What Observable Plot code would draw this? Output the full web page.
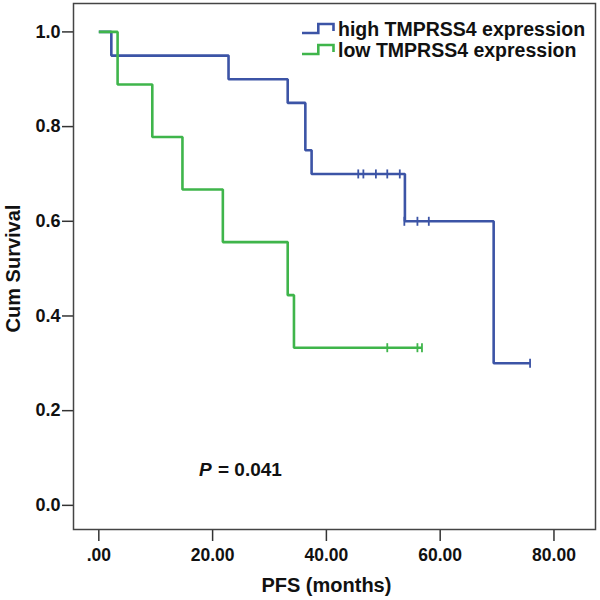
<!DOCTYPE html>
<html>
<head>
<meta charset="utf-8">
<script src="https://cdn.jsdelivr.net/npm/d3@7"></script>
<script src="https://cdn.jsdelivr.net/npm/@observablehq/plot@0.6"></script>
<style>
  html, body { margin: 0; padding: 0; background: #fff; }
  #wrap { position: relative; width: 600px; height: 600px; font-family: "Liberation Sans", Arial, sans-serif; }
  .leg { position: absolute; left: 338px; font-size: 19.5px; font-weight: bold; color: #111; line-height: 20px; white-space: nowrap; }
  #glyphs { position: absolute; left: 0; top: 0; pointer-events: none; }
</style>
</head>
<body>
<div id="wrap"></div>
<script>
// ---- data ----
const groups = ["high TMPRSS4 expression", "low TMPRSS4 expression"];
const colors = ["#3c54a6", "#3fb54b"];

const highTime = [0, 2.2, 22.8, 33.2, 36.3, 37.4, 53.8, 69.4, 75.8];
const highSurv = [1.0, 0.95, 0.90, 0.85, 0.75, 0.70, 0.60, 0.30, 0.30];
const highCensorTime = [45.6, 46.5, 48.7, 50.7, 52.9, 53.7, 56.0, 58.0, 75.8];
const highCensorSurv = [0.70, 0.70, 0.70, 0.70, 0.70, 0.60, 0.60, 0.60, 0.30];

const lowTime = [0, 3.3, 9.4, 14.7, 21.8, 33.2, 34.3, 56.8];
const lowSurv = [1.0, 0.889, 0.778, 0.667, 0.556, 0.444, 0.333, 0.333];
const lowCensorTime = [50.7, 56.0, 56.8];
const lowCensorSurv = [0.333, 0.333, 0.333];

const xTicks = [0, 20, 40, 60, 80];
const xTickLabels = [".00", "20.00", "40.00", "60.00", "80.00"];
const yTicks = [0, 0.2, 0.4, 0.6, 0.8, 1.0];
const yTickLabels = ["0.0", "0.2", "0.4", "0.6", "0.8", "1.0"];
const xTitle = "PFS (months)";
const yTitle = "Cum Survival";
const pLetter = "P";
const pRest = "= 0.041";
const pAnno = [{x: 17.6, y: 0.074}];

// ---- build tables ----
const highSteps = highTime.map((t, i) => ({t, s: highSurv[i], g: groups[0]}));
const lowSteps = lowTime.map((t, i) => ({t, s: lowSurv[i], g: groups[1]}));
const highCens = highCensorTime.map((t, i) => ({t, s: highCensorSurv[i], g: groups[0]}));
const lowCens = lowCensorTime.map((t, i) => ({t, s: lowCensorSurv[i], g: groups[1]}));

const tickSymbol = {
  draw(context, size) {
    const r = Math.sqrt(size / Math.PI);
    context.moveTo(0, -r);
    context.lineTo(0, r);
  }
};

const font = "Liberation Sans, Arial, sans-serif";
const ink = "#111";

const chart = Plot.plot({
  width: 600,
  height: 600,
  marginLeft: 73,
  marginRight: 5,
  marginTop: 3,
  marginBottom: 71,
  style: {fontFamily: font, background: "white", color: ink},
  x: {domain: [-4.45, 87.3]},
  y: {domain: [-0.051, 1.060]},
  color: {domain: groups, range: colors},
  marks: [
    Plot.axisX({
      ticks: xTicks,
      tickFormat: d => xTickLabels[xTicks.indexOf(d)],
      tickSize: 12, tickPadding: 7,
      fontSize: 17.5, fontWeight: "bold",
      stroke: "#333", strokeWidth: 1.5, fill: ink,
      label: null
    }),
    Plot.axisY({
      ticks: yTicks,
      tickFormat: d => yTickLabels[yTicks.findIndex(v => Math.abs(v - d) < 1e-9)],
      tickSize: 11, tickPadding: 2,
      fontSize: 18, fontWeight: "bold",
      stroke: "#333", strokeWidth: 1.5, fill: ink,
      label: null
    }),
    Plot.frame({stroke: "#444", strokeWidth: 1.5}),
    Plot.line(highSteps, {x: "t", y: "s", stroke: "g", curve: "step-after", strokeWidth: 2.6, strokeLinejoin: "miter", strokeLinecap: "butt"}),
    Plot.line(lowSteps, {x: "t", y: "s", stroke: "g", curve: "step-after", strokeWidth: 2.6, strokeLinejoin: "miter", strokeLinecap: "butt"}),
    Plot.dot(highCens.concat(lowCens), {x: "t", y: "s", stroke: "g", symbol: tickSymbol, r: 4.5, strokeWidth: 1.8, fill: "none"}),
    Plot.text(pAnno, {x: "x", y: "y", text: () => pLetter, textAnchor: "start", fontSize: 19, fontWeight: "bold", fontStyle: "italic", fill: ink}),
    Plot.text(pAnno, {x: "x", y: "y", text: () => pRest, textAnchor: "start", dx: 19, fontSize: 19, fontWeight: "bold", fill: ink}),
    Plot.text([xTitle], {x: () => d3.mean(xTicks), frameAnchor: "bottom", lineAnchor: "middle", textAnchor: "middle", dy: 56, fontSize: 20, fontWeight: "bold", fill: ink}),
    Plot.text([yTitle], {frameAnchor: "left", rotate: -90, textAnchor: "middle", lineAnchor: "middle", dx: -60, dy: 2, fontSize: 20, fontWeight: "bold", fill: ink})
  ]
});

const wrap = document.getElementById("wrap");
wrap.appendChild(chart);

// legend (glyphs + text)
const ns = "http://www.w3.org/2000/svg";
const g = document.createElementNS(ns, "svg");
g.setAttribute("id", "glyphs");
g.setAttribute("width", 600);
g.setAttribute("height", 600);
const rowTops = [19, 40];
groups.forEach((name, i) => {
  const base = rowTops[i];
  const p = document.createElementNS(ns, "path");
  p.setAttribute("d", `M302,${base + 14}H318.3V${base + 5}H333.5V${base + 12}`);
  p.setAttribute("fill", "none");
  p.setAttribute("stroke", colors[i]);
  p.setAttribute("stroke-width", 2.6);
  g.appendChild(p);
  const span = document.createElement("div");
  span.className = "leg";
  span.style.top = base + "px";
  span.textContent = name;
  wrap.appendChild(span);
});
wrap.appendChild(g);
</script>
</body>
</html>
